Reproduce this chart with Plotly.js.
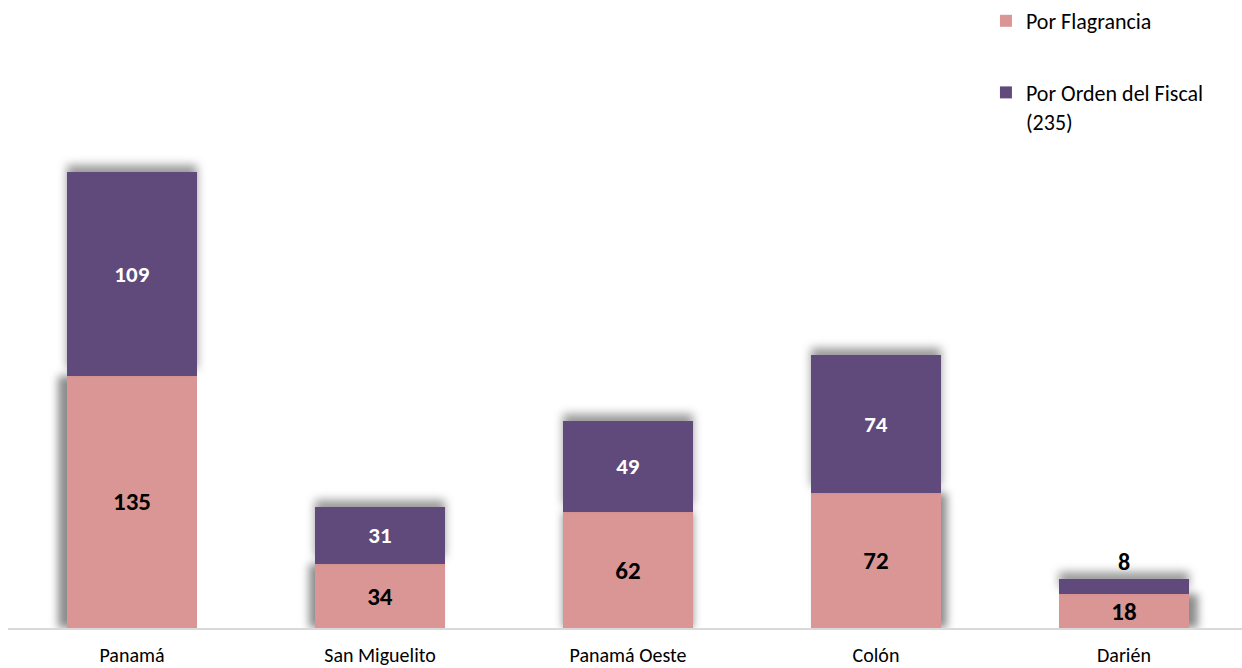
<!DOCTYPE html>
<html>
<head>
<meta charset="utf-8">
<script src="https://cdn.plot.ly/plotly-3.0.1.min.js"></script>
<style>
  html, body { margin: 0; padding: 0; background: #fff; }
  #chart { width: 1242px; height: 668px; }
</style>
</head>
<body>
<div id="chart"></div>
<script>
const categories = ['Panamá', 'San Miguelito', 'Panamá Oeste', 'Colón', 'Darién'];
const flagrancia = [135, 34, 62, 72, 18];
const ordenFiscal = [109, 31, 49, 74, 8];
const seriesNames = ['Por Flagrancia', 'Por Orden del Fiscal<br>(235)'];

const FONT = 'Calibri, Carlito, Lato, "Open Sans", sans-serif';
const PINK = '#D99694';
const PURPLE = '#604A7B';

const traces = [
  {
    type: 'bar', name: seriesNames[0], x: categories, y: flagrancia,
    marker: { color: PINK }, width: 0.524,
    text: flagrancia.map(String), textposition: 'inside', insidetextanchor: 'middle',
    textangle: 0,
    textfont: { family: FONT, size: 25, color: '#000', weight: 'bold' },
    constraintext: 'none', cliponaxis: false, hoverinfo: 'skip',
    legendgroup: 'a'
  },
  {
    type: 'bar', name: seriesNames[1], x: categories, y: ordenFiscal,
    marker: { color: PURPLE }, width: 0.524,
    text: ordenFiscal.map(String),
    textposition: ordenFiscal.map(v => v < 15 ? 'outside' : 'inside'),
    insidetextanchor: 'middle', textangle: 0,
    textfont: { family: FONT, size: 23, weight: 'bold', color: ordenFiscal.map(v => v < 15 ? '#000' : '#fff') },
    outsidetextfont: { family: FONT, size: 24, weight: 'bold', color: '#000' },
    constraintext: 'none', cliponaxis: false, hoverinfo: 'skip',
    legendgroup: 'b'
  }
];

const layout = {
  width: 1242, height: 668,
  margin: { l: 8, r: 0, t: 0, b: 40 },
  paper_bgcolor: '#fff', plot_bgcolor: '#fff',
  barmode: 'stack',
  showlegend: true,
  legend: {
    x: 0.7925, xanchor: 'left', y: 1.0, yanchor: 'top',
    traceorder: 'grouped', tracegroupgap: 40, valign: 'top',
    font: { family: FONT, size: 22, color: '#000' },
    bgcolor: 'rgba(0,0,0,0)', itemclick: false
  },
  xaxis: {
    range: [-0.5, 4.476], showgrid: false, zeroline: false,
    showline: true, linecolor: '#D9D9D9', linewidth: 1.5,
    ticks: 'outside', ticklen: 8, tickcolor: 'rgba(0,0,0,0)',
    tickfont: { family: FONT, size: 20, color: '#000' }
  },
  yaxis: {
    range: [0, 336], showgrid: false, zeroline: false, showline: false,
    showticklabels: false, ticks: ''
  },
  font: { family: FONT }
};

Plotly.newPlot('chart', traces, layout, { displayModeBar: false, staticPlot: true }).then(() => {
  const tr = document.querySelectorAll('.barlayer .trace');
  const xoff = [-9, -6, 0, 6, 9];
  if (tr[0]) tr[0].querySelectorAll('.point path').forEach((p, i) => {
    p.style.filter = `drop-shadow(${xoff[i] || 0}px 0px 4px rgba(0,0,0,0.45))`;
  });
  if (tr[1]) tr[1].querySelectorAll('.point path').forEach((p) => {
    p.style.filter = 'drop-shadow(0px -7px 5px rgba(0,0,0,0.4))';
  });
});
</script>
</body>
</html>
